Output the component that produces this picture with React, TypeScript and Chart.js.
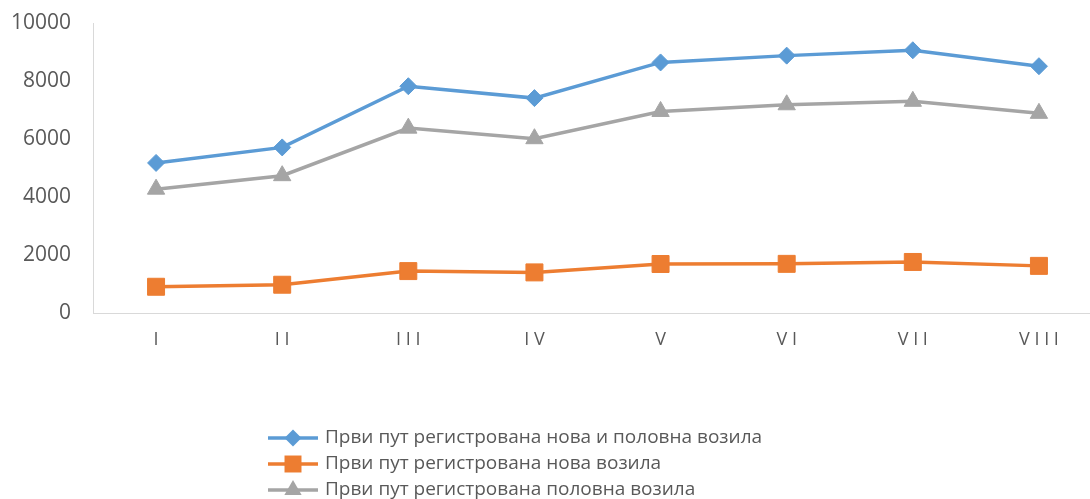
import React, { useEffect, useRef } from "react";
import { Chart, registerables } from "chart.js";

Chart.register(...registerables);

const categories = ["I", "II", "III", "IV", "V", "VI", "VII", "VIII"];
const seriesNames = [
  "Први пут регистрована нова и половна возила",
  "Први пут регистрована нова возила",
  "Први пут регистрована половна возила",
];
const totalVehicles = [5175, 5710, 7820, 7410, 8640, 8875, 9060, 8510];
const newVehicles = [905, 975, 1445, 1400, 1690, 1695, 1760, 1625];
const usedVehicles = [4270, 4735, 6375, 6010, 6950, 7180, 7300, 6885];
const yTicks = [0, 2000, 4000, 6000, 8000, 10000];

const COLORS = ["#5B9BD5", "#ED7D31", "#A5A5A5"];
const TEXT = "#595959";
const FONT = "'Open Sans', 'Noto Sans', sans-serif";

function drawMarker(ctx: CanvasRenderingContext2D, style: string, x: number, y: number, r: number, color: string) {
  ctx.save();
  ctx.fillStyle = color;
  ctx.beginPath();
  if (style === "rectRot") {
    ctx.moveTo(x, y - r);
    ctx.lineTo(x + r, y);
    ctx.lineTo(x, y + r);
    ctx.lineTo(x - r, y);
  } else if (style === "rect") {
    const s = r * Math.SQRT1_2;
    ctx.rect(x - s, y - s, 2 * s, 2 * s);
  } else {
    ctx.moveTo(x, y - r);
    ctx.lineTo(x + r * Math.sin((2 * Math.PI) / 3), y - r * Math.cos((2 * Math.PI) / 3));
    ctx.lineTo(x + r * Math.sin((4 * Math.PI) / 3), y - r * Math.cos((4 * Math.PI) / 3));
  }
  ctx.closePath();
  ctx.fill();
  ctx.restore();
}

const legendPlugin = {
  id: "stackedLegend",
  afterDraw(chart: any) {
    const ctx: CanvasRenderingContext2D = chart.ctx;
    const x0 = 268;
    const lineLen = 50;
    const textX = 325;
    const rowY = [438, 464, 490];
    chart.data.datasets.forEach((ds: any, i: number) => {
      const y = rowY[i];
      ctx.save();
      ctx.strokeStyle = ds.borderColor;
      ctx.lineWidth = 3.5;
      ctx.beginPath();
      ctx.moveTo(x0, y);
      ctx.lineTo(x0 + lineLen, y);
      ctx.stroke();
      ctx.restore();
      drawMarker(ctx, ds.pointStyle, x0 + lineLen / 2, y, ds.pointRadius, ds.borderColor);
      ctx.save();
      ctx.fillStyle = TEXT;
      ctx.font = `19px ${FONT}`;
      ctx.textAlign = "left";
      ctx.textBaseline = "middle";
      ctx.fillText(ds.label, textX, y);
      ctx.restore();
    });
  },
};

export default function App() {
  const ref = useRef<HTMLCanvasElement | null>(null);
  useEffect(() => {
    if (!ref.current) return;
    const mk = (label: string, data: number[], color: string, pointStyle: string, r: number) => ({
      label,
      data,
      borderColor: color,
      backgroundColor: color,
      pointBackgroundColor: color,
      pointBorderColor: color,
      pointBorderWidth: 1,
      borderWidth: 3.5,
      pointStyle,
      pointRadius: r,
      pointHoverRadius: r,
      tension: 0,
    });
    const chart = new Chart(ref.current, {
      type: "line",
      data: {
        labels: categories,
        datasets: [
          mk(seriesNames[0], totalVehicles, COLORS[0], "rectRot", 8.5),
          mk(seriesNames[1], newVehicles, COLORS[1], "rect", 12),
          mk(seriesNames[2], usedVehicles, COLORS[2], "triangle", 10),
        ],
      },
      options: {
        animation: false,
        responsive: true,
        maintainAspectRatio: false,
        layout: { padding: { top: 23, left: 0, right: 0, bottom: 0 } },
        plugins: { legend: { display: false }, tooltip: { enabled: false } },
        scales: {
          x: {
            type: "category",
            offset: true,
            grid: { display: false, drawTicks: false },
            border: { display: true, color: "#D9D9D9", width: 1 },
            ticks: {
              color: TEXT,
              font: { family: FONT, size: 18 },
              padding: 16,
              maxRotation: 0,
              autoSkip: false,
              callback: (_v: any, i: number) => categories[i].split("").join(" "),
            },
            afterFit: (scale: any) => {
              scale.height = 186;
            },
          },
          y: {
            min: 0,
            max: 10000,
            grid: { display: false, drawTicks: false },
            border: { display: true, color: "#D9D9D9", width: 1 },
            afterBuildTicks: (scale: any) => {
              scale.ticks = yTicks.map((v) => ({ value: v }));
            },
            ticks: {
              color: TEXT,
              font: { family: FONT, size: 21 },
              padding: 22,
              callback: (v: any) => String(v),
            },
            afterFit: (scale: any) => {
              scale.width = 93;
              scale.paddingTop = 0;
              scale.paddingBottom = 0;
            },
          },
        },
      },
      plugins: [legendPlugin],
    });
    return () => chart.destroy();
  }, []);
  return (
    <div style={{ position: "fixed", left: 0, top: 0, width: 1090, height: 499, overflow: "hidden", background: "#fff" }}>
      <div style={{ position: "relative", width: 1115, height: 499 }}>
        <canvas ref={ref} />
      </div>
    </div>
  );
}
